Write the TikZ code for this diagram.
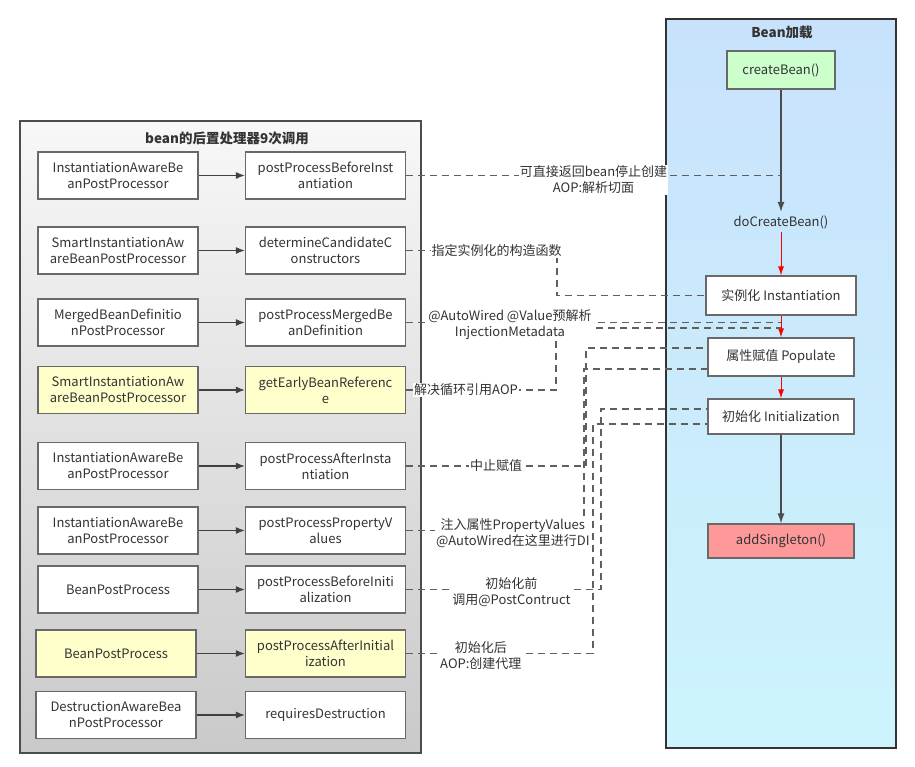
\documentclass[tikz,border=0pt]{standalone}
\usepackage{fontspec}
\setmainfont{Noto Sans CJK SC}
\usepackage{xcolor}
\usetikzlibrary{arrows.meta}
\definecolor{boxline}{RGB}{105,105,105}
\definecolor{callline}{RGB}{95,95,95}
\definecolor{inktext}{RGB}{51,51,51}
\definecolor{hilite}{RGB}{255,255,204}
\definecolor{startgreen}{RGB}{204,255,204}
\definecolor{endred}{RGB}{255,153,153}
\definecolor{paneltop}{RGB}{200,226,252}
\definecolor{panelbot}{RGB}{205,244,253}

\begin{document}
\begin{tikzpicture}[x=1pt,y=-1pt,
  every node/.style={font=\fontsize{13}{16}\selectfont, text=inktext, align=center},
  ppbox/.style={draw=boxline, line width=1.2pt, fill=white, minimum width=160pt, minimum height=47pt, inner sep=1pt},
  stepbox/.style={draw=boxline, line width=1.2pt, fill=white, inner sep=1pt},
  paneltitle/.style={font=\fontsize{13.5}{16}\selectfont\bfseries},
  ppedge/.style={draw=black!75, line width=1.2pt, -{Latex[length=9pt,width=7pt]}},
  flow/.style={draw=black!70, line width=1.2pt, -{Latex[length=10pt,width=7pt]}},
  redflow/.style={draw=red, line width=0.9pt, -{Latex[length=9pt,width=6pt]}},
  ppcall/.style={draw=callline, line width=1.2pt, dash pattern=on 7pt off 5pt},
  pplabel/.style={fill=white, inner sep=1pt}]
\useasboundingbox (0,0) rectangle (915,766);

% containers
\draw[draw=black!70, line width=1.3pt, top color=white!97!black, bottom color=white!79!black] (20,121) rectangle (421,753);
\node[paneltitle] (pptitle) at (227,138) {bean的后置处理器9次调用};
\draw[draw=black!80, line width=1.8pt, top color=paneltop, bottom color=panelbot] (666,19) rectangle (896,748);
\node[paneltitle] (loadtitle) at (782,32) {Bean加载};

% post processors
\node[ppbox] (l1) at (118,175.5) {InstantiationAwareBe\\anPostProcessor};
\node[ppbox] (r1) at (325.5,175.5) {postProcessBeforeInst\\antiation};
\node[ppbox] (l2) at (118,250.5) {SmartInstantiationAw\\areBeanPostProcessor};
\node[ppbox] (r2) at (325.5,250.5) {determineCandidateC\\onstructors};
\node[ppbox] (l3) at (118,322.5) {MergedBeanDefinitio\\nPostProcessor};
\node[ppbox] (r3) at (325.5,322.5) {postProcessMergedBe\\anDefinition};
\node[ppbox, fill=hilite] (l4) at (118,390) {SmartInstantiationAw\\areBeanPostProcessor};
\node[ppbox, fill=hilite] (r4) at (325.5,390) {getEarlyBeanReferenc\\e};
\node[ppbox] (l5) at (118,466) {InstantiationAwareBe\\anPostProcessor};
\node[ppbox] (r5) at (325.5,466) {postProcessAfterInsta\\ntiation};
\node[ppbox] (l6) at (118,530.5) {InstantiationAwareBe\\anPostProcessor};
\node[ppbox] (r6) at (325.5,530.5) {postProcessPropertyV\\alues};
\node[ppbox] (l7) at (118,589.5) {BeanPostProcess};
\node[ppbox] (r7) at (325.5,589.5) {postProcessBeforeIniti\\alization};
\node[ppbox, fill=hilite] (l8) at (116,653.5) {BeanPostProcess};
\node[ppbox, fill=hilite] (r8) at (325.5,653.5) {postProcessAfterInitial\\ization};
\node[ppbox] (l9) at (116,715) {DestructionAwareBea\\nPostProcessor};
\node[ppbox] (r9) at (325.5,715) {requiresDestruction};
\foreach \i in {1,...,9}
  \draw[ppedge] (l\i) -- (r\i);

% bean loading
\node[stepbox, fill=startgreen, minimum width=108pt, minimum height=38pt] (create) at (781,70) {createBean()};
\node (docreate) at (781,222) {doCreateBean()};
\node[stepbox, minimum width=150pt, minimum height=39pt] (inst) at (781,295.5) {实例化 Instantiation};
\node[stepbox, minimum width=146pt, minimum height=38pt] (pop) at (781,357) {属性赋值 Populate};
\node[stepbox, minimum width=146pt, minimum height=35pt] (init) at (781,416.5) {初始化 Initialization};
\node[stepbox, fill=endred, minimum width=146pt, minimum height=34pt] (single) at (781,541) {addSingleton()};
\draw[flow] (create) -- (docreate);
\draw[redflow] (docreate) -- (inst);
\draw[redflow] (inst) -- (pop);
\draw[redflow] (pop) -- (init);
\draw[flow] (init) -- (single);

% calls into the bean loading
\coordinate (b2) at (557,295.5);
\coordinate (b4) at (556,328);
\coordinate (b5) at (586,348);
\coordinate (b6) at (584,369);
\coordinate (b7) at (601,409);
\coordinate (b8) at (593,424);
\draw[ppcall] (r1.east) -- node[pplabel, yshift=-4.5pt] {可直接返回bean停止创建\\AOP:解析切面} (r1.east -| create);
\draw[ppcall] (r2.east) -| node[pplabel, pos=0.3] {指定实例化的构造函数} (b2) -- (inst.west);
\draw[ppcall] (r4.east) -| node[pplabel, pos=0.2] {解决循环引用AOP} (b4) -- (b4 -| create);
\draw[ppcall] (r3.east) -- node[pplabel, pos=0.277, yshift=-2.5pt] {@AutoWired @Value预解析\\InjectionMetadata} (r3.east -| create);
\draw[ppcall] (r5.east) -| node[pplabel, pos=0.25] {中止赋值} (b5) -- (b5 -| pop.west);
\draw[ppcall] (r6.east) -| node[pplabel, pos=0.3, yshift=-2.5pt] {注入属性PropertyValues\\@AutoWired在这里进行DI} (b6) -- (b6 -| pop.west);
\draw[ppcall] (r7.east) -| node[pplabel, pos=0.27, yshift=-2.5pt] {初始化前\\调用@PostContruct} (b7) -- (b7 -| init.west);
\draw[ppcall] (r8.east) -| node[pplabel, pos=0.2, yshift=-2.5pt] {初始化后\\AOP:创建代理} (b8) -- (b8 -| init.west);
\end{tikzpicture}
\end{document}
